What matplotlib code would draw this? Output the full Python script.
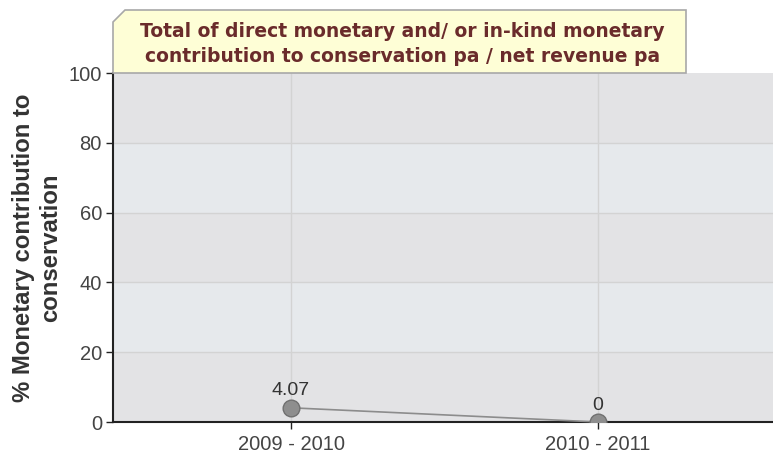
import matplotlib
matplotlib.use("Agg")
import matplotlib.pyplot as plt
from matplotlib.patches import Polygon
from matplotlib import font_manager as fm

categories = ["2009 - 2010", "2010 - 2011"]
values = [4.07, 0]
value_labels = ["4.07", "0"]
yticks = [0, 20, 40, 60, 80, 100]
title = "Total of direct monetary and/ or in-kind monetary\ncontribution to conservation pa / net revenue pa"
ylabel = "% Monetary contribution to\nconservation"

# pick the regular-width Liberation Sans Bold file explicitly
bold_path = None
for p in fm.findSystemFonts():
    if p.endswith("LiberationSans-Bold.ttf"):
        bold_path = p
        break
if bold_path:
    ylab_fp = fm.FontProperties(fname=bold_path, size=17.2)
else:
    ylab_fp = fm.FontProperties(family="DejaVu Sans", weight="bold", size=15)

W, H = 773, 461
fig = plt.figure(figsize=(W / 100, H / 100), dpi=100)
ax = fig.add_axes([113 / W, (H - 422) / H, (W - 113) / W, (422 - 73) / H])

x = list(range(len(categories)))
ax.set_xlim(-0.58, 1.57)
ax.set_ylim(0, 100)

# alternating bands
ax.set_facecolor("#e6e9ec")
for i in range(len(yticks) - 1):
    if i % 2 == 0:
        ax.axhspan(yticks[i], yticks[i + 1], color="#e3e3e5", zorder=0, lw=0)
for yv in yticks[1:-1]:
    ax.axhline(yv, color="#d3d3d3", lw=1, zorder=1)
for xv in x:
    ax.axvline(xv, color="#d3d3d3", lw=1, zorder=1)

ax.plot(x, values, color="#8c8c8c", lw=1.2, zorder=3, clip_on=False)
ax.plot(x, values, "o", ms=12, mfc="#8e8e8e", mec="#707070", mew=1, zorder=4, clip_on=True)
for xi, v, lab in zip(x, values, value_labels):
    ax.annotate(lab, (xi, v), xytext=(0, 6), textcoords="offset points",
                ha="center", va="bottom", fontsize=14, color="#333333",
                family="Liberation Sans")

ax.set_xticks(x)
ax.set_xticklabels(categories)
ax.set_yticks(yticks)
for s in ["top", "right"]:
    ax.spines[s].set_visible(False)
for s in ["left", "bottom"]:
    ax.spines[s].set_color("#222222")
    ax.spines[s].set_linewidth(1.5)
ax.tick_params(axis="both", colors="#222222", labelcolor="#444444", length=5, width=1,
               labelsize=14.5)
for lab in ax.get_xticklabels() + ax.get_yticklabels():
    lab.set_family("Liberation Sans")
ax.tick_params(axis="x", pad=4)
ax.tick_params(axis="y", pad=3)

ax.set_ylabel(ylabel, fontproperties=ylab_fp, color="#333333", linespacing=1.2)
ax.yaxis.set_label_coords(-(113 - 62) / (W - 113), 0.5)

# title box with notched corner
x0, x1 = 113 / W, 686 / W
y0, y1 = (H - 73) / H, (H - 10) / H
nx, ny = 12 / W, 12 / H
poly = Polygon([[x0, y0], [x1, y0], [x1, y1], [x0 + nx, y1], [x0, y1 - ny]],
               closed=True, transform=fig.transFigure, facecolor="#fefed6",
               edgecolor="#a8a8a8", lw=1.2, zorder=5)
fig.patches.append(poly)
fig.text((x0 + x1) / 2 + 3 / W, (H - 44) / H, title, ha="center", va="center",
         fontsize=13.5, fontweight="bold", color="#6a2b2b", family="DejaVu Sans",
         linespacing=1.4, zorder=6)

fig.savefig("out.png", dpi=100)
